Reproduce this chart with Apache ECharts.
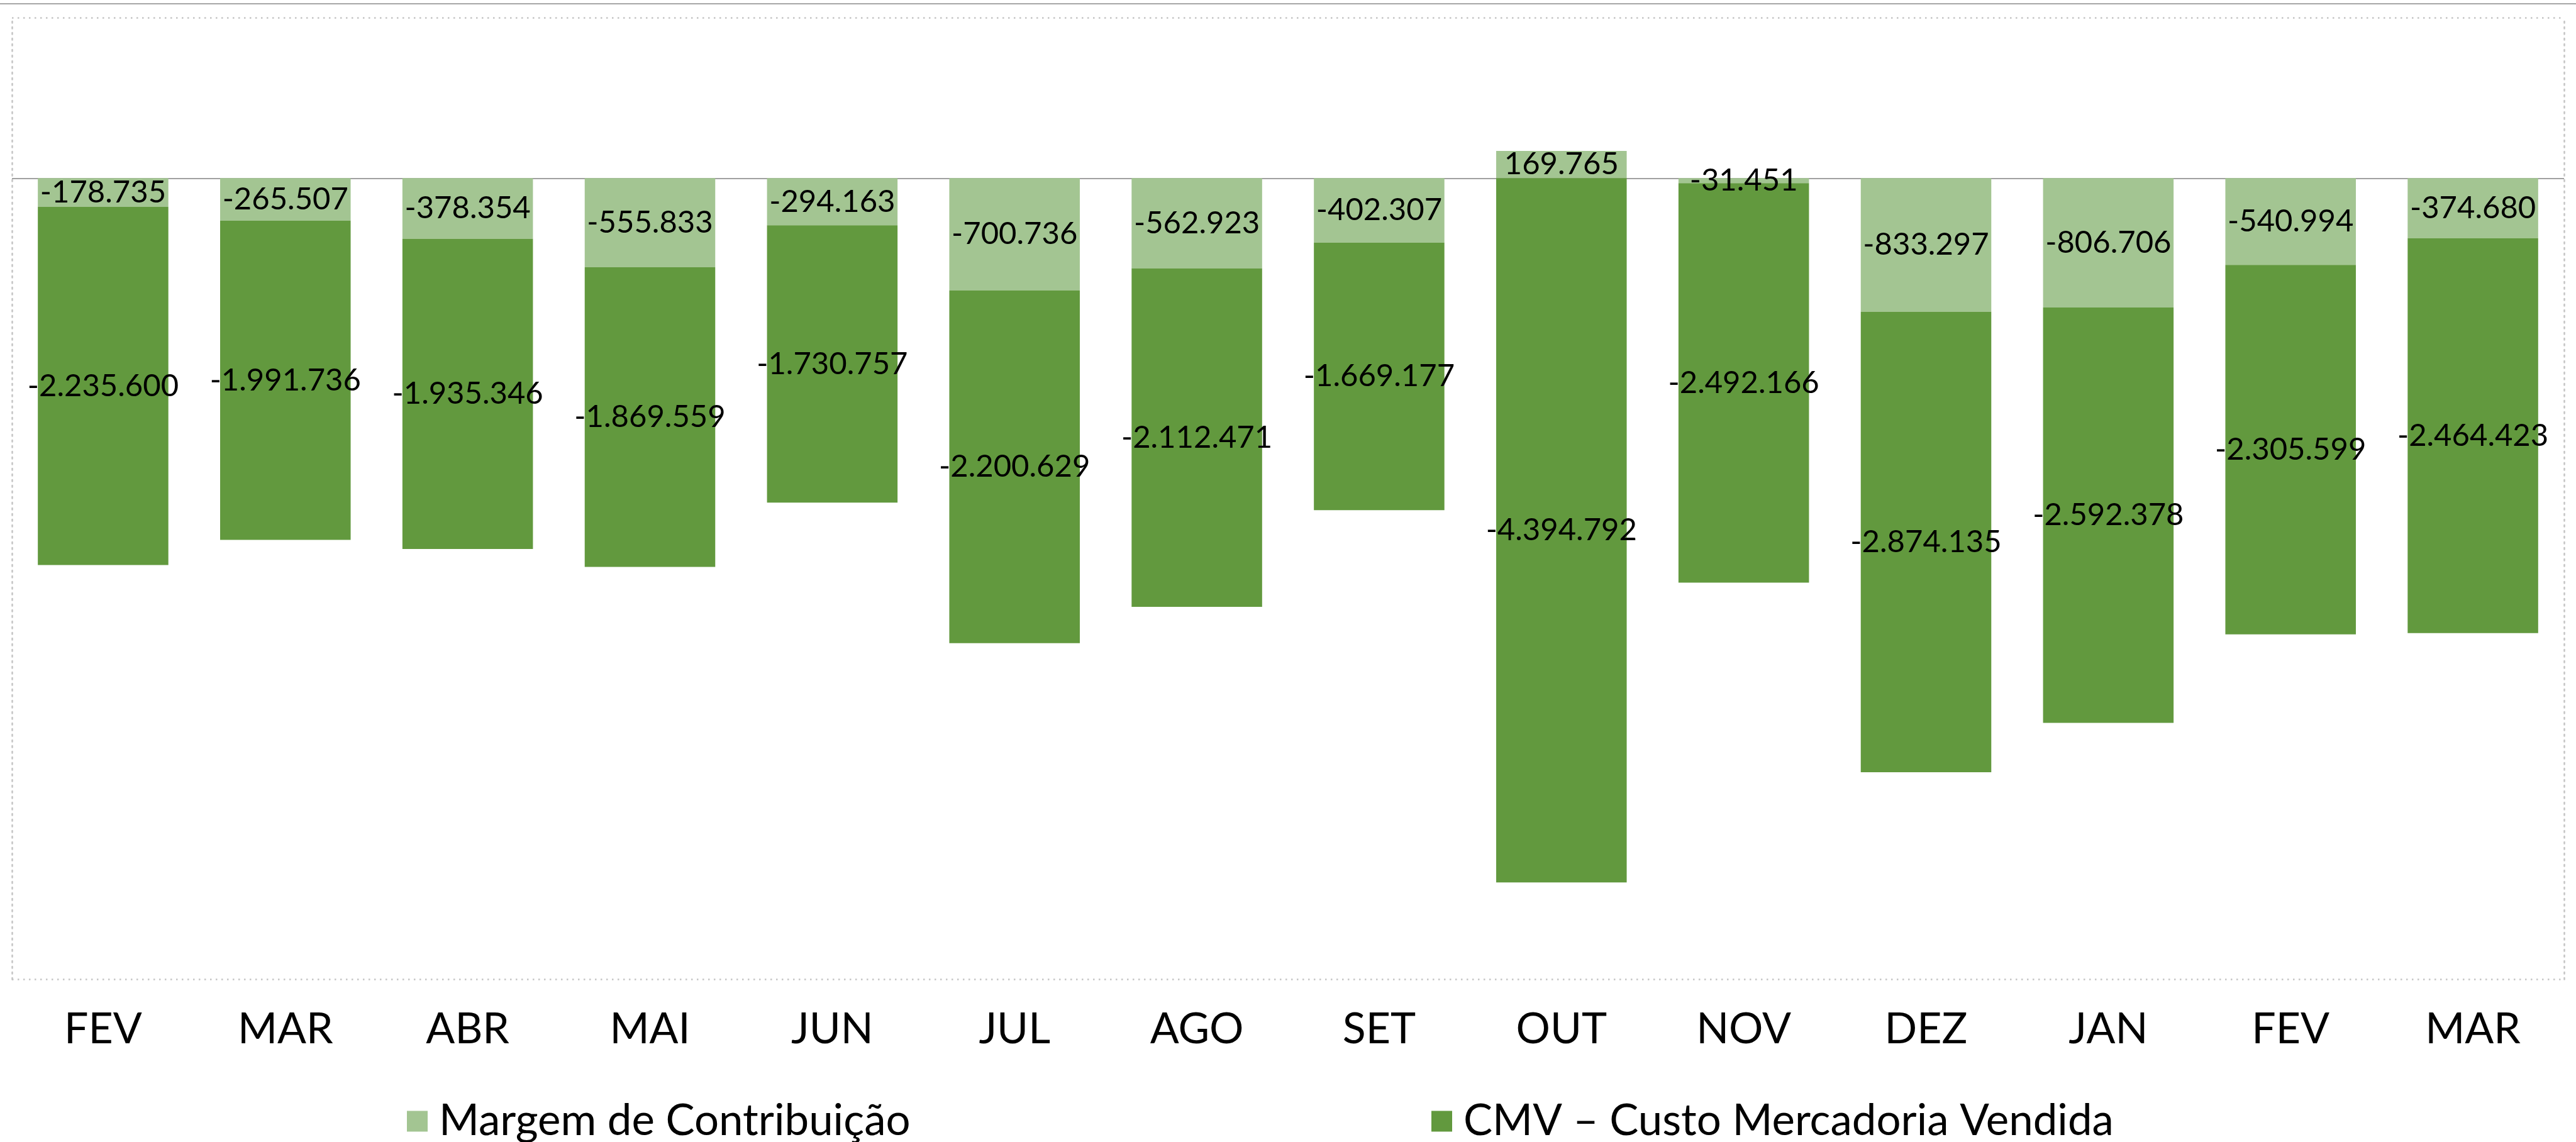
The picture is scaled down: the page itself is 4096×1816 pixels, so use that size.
<!DOCTYPE html>
<html><head><meta charset="utf-8">
<script src="https://cdn.jsdelivr.net/npm/echarts@6/dist/echarts.min.js"></script>
<style>html,body{margin:0;padding:0;background:#fff}#c{width:4096px;height:1816px}</style>
</head><body><div id="c"></div>
<script>
const categories = ['FEV','MAR','ABR','MAI','JUN','JUL','AGO','SET','OUT','NOV','DEZ','JAN','FEV','MAR'];
const margem = [-178735,-265507,-378354,-555833,-294163,-700736,-562923,-402307,169765,-31451,-833297,-806706,-540994,-374680];
const cmv = [-2235600,-1991736,-1935346,-1869559,-1730757,-2200629,-2112471,-1669177,-4394792,-2492166,-2874135,-2592378,-2305599,-2464423];
const seriesNames = ['Margem de Contribuição','CMV – Custo Mercadoria Vendida'];
const yMin = -5000000, yMax = 1000000, yStep = 1000000;

function fmt(v){
  const s = Math.abs(Math.round(v)).toString().replace(/\B(?=(\d{3})+(?!\d))/g,'.');
  return (v < 0 ? '-' : '') + s;
}
const FONT = 'Lato';
const T = 'rgba(0,0,0,0)';
const dot = {color:'#c4c4c4', width:2.5, type:[2.5,6.5]};
const chart = echarts.init(document.getElementById('c'), null, {renderer:'canvas'});
const labelCfg = {show:true, position:'inside', color:'#000', fontFamily:FONT, fontSize:49,
  textBorderWidth:0, formatter:p=>fmt(p.value)};
chart.setOption({
  animation:false,
  backgroundColor:'#fff',
  graphic:[{type:'line', shape:{x1:0,y1:6,x2:4096,y2:6}, style:{stroke:'#a6a6a6', lineWidth:2}, silent:true}],
  grid:{left:19, right:19, top:28.5, bottom:258.5, containLabel:false},
  legend:[
    {data:[seriesNames[0]], left:642, top:1743, itemWidth:33, itemHeight:33, icon:'rect',
     textStyle:{fontFamily:FONT, fontSize:69, lineHeight:70, color:'#000', padding:[0,0,0,13]}},
    {data:[seriesNames[1]], left:2271, top:1743, itemWidth:33, itemHeight:33, icon:'rect',
     textStyle:{fontFamily:FONT, fontSize:69, lineHeight:70, color:'#000', padding:[0,0,0,13]}}
  ],
  xAxis:{type:'category', data:categories, axisLine:{show:false, onZero:false}, axisTick:{show:false},
    axisLabel:{fontFamily:FONT, fontSize:68, color:'#000', margin:46, interval:0}},
  yAxis:[
    {type:'value', min:yMin, max:yMax, interval:yStep, position:'left',
     axisLabel:{show:false}, axisTick:{show:false},
     axisLine:{show:true, lineStyle:dot},
     splitLine:{show:true, lineStyle:{color:['#c4c4c4',T,T,T,T,T,'#c4c4c4'], width:2.5, type:[2.5,6.5]}}},
    {type:'value', min:yMin, max:yMax, interval:yStep, position:'right',
     axisLabel:{show:false}, axisTick:{show:false},
     axisLine:{show:true, lineStyle:dot},
     splitLine:{show:true, lineStyle:{color:[T,T,T,T,T,'#a0a0a0',T], width:2, type:'solid'}}}
  ],
  series:[
    {name:seriesNames[0], type:'bar', stack:'total', barWidth:'71.6%', yAxisIndex:0,
     itemStyle:{color:'#a3c592'}, label:labelCfg, data:margem},
    {name:seriesNames[1], type:'bar', stack:'total', barWidth:'71.6%', yAxisIndex:0,
     itemStyle:{color:'#62993e'}, label:labelCfg, data:cmv}
  ]
});
</script></body></html>
